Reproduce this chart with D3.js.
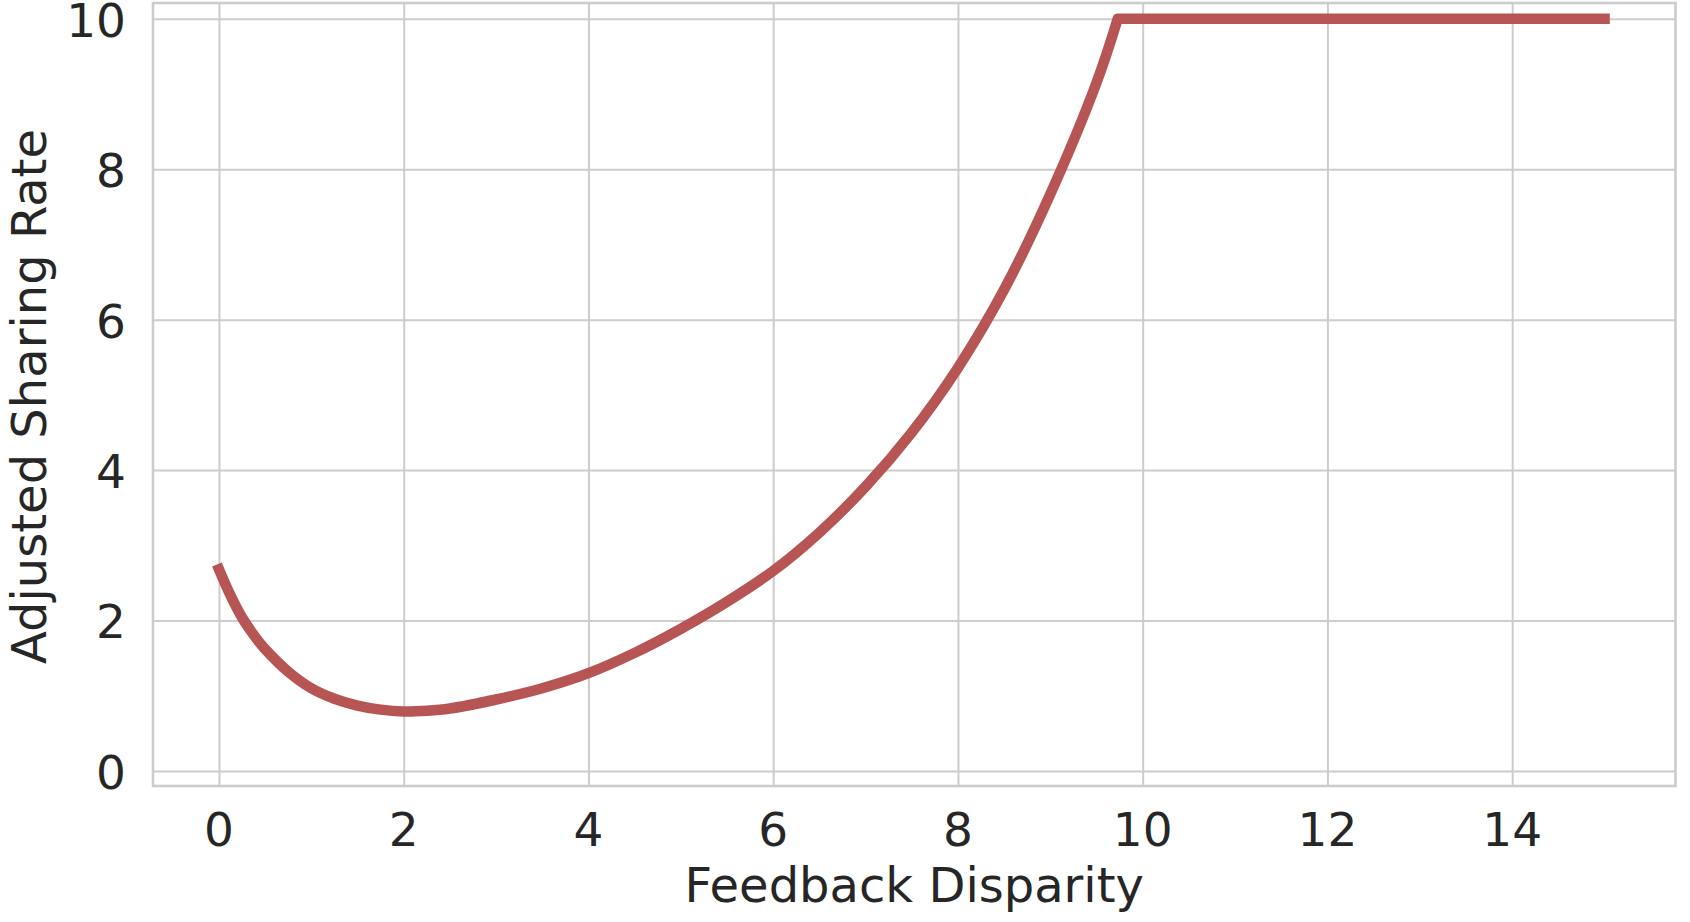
<!DOCTYPE html>
<html>
<head>
<meta charset="utf-8">
<script src="https://cdn.jsdelivr.net/npm/d3@7"></script>
<style>
  html, body { margin: 0; padding: 0; background: #ffffff; }
  svg { display: block; }
</style>
</head>
<body>
<svg id="chart" width="1690" height="922"></svg>
<script>
// ---- data ----
const disparity = [0, 0.1, 0.25, 0.4, 0.5, 0.75, 1, 1.25, 1.5, 1.75, 2, 2.25, 2.5, 3, 3.5, 4, 4.5, 5, 5.5, 6, 6.5, 7, 7.5, 8, 8.5, 9, 9.5, 9.73];
const sharingRate = [2.68, 2.40, 2.04, 1.77, 1.62, 1.32, 1.10, 0.96, 0.87, 0.815, 0.79, 0.80, 0.83, 0.95, 1.10, 1.30, 1.57, 1.89, 2.25, 2.66, 3.17, 3.78, 4.5, 5.36, 6.4, 7.67, 9.15, 10];
const plateauX = [9.73, 15];
const plateauY = [10, 10];
const xTicks = [0, 2, 4, 6, 8, 10, 12, 14];
const yTicks = [0, 2, 4, 6, 8, 10];
const xLabel = "Feedback Disparity";
const yLabel = "Adjusted Sharing Rate";

// ---- layout ----
const svg = d3.select("#chart");
const plotL = 153, plotR = 1675.5, plotT = 3, plotB = 786;
const x = d3.scaleLinear().domain([-0.714, 15.768]).range([plotL, plotR]);
const y = d3.scaleLinear().domain([-0.2, 10.21]).range([plotB, plotT]);
const gridColor = "#cccccc";
const textColor = "#262626";
const font = "DejaVu Sans, sans-serif";

// grid
const xAxis = d3.axisBottom(x).tickValues(xTicks).tickSize(-(plotB - plotT)).tickPadding(0).tickFormat(() => "");
const yAxis = d3.axisLeft(y).tickValues(yTicks).tickSize(-(plotR - plotL)).tickPadding(0).tickFormat(() => "");
const gx = svg.append("g").attr("transform", `translate(0,${plotB})`).call(xAxis);
const gy = svg.append("g").attr("transform", `translate(${plotL},0)`).call(yAxis);
[gx, gy].forEach(g => {
  g.select(".domain").remove();
  g.selectAll(".tick line").attr("stroke", gridColor).attr("stroke-width", 2);
});

// tick labels
svg.append("g").selectAll("text").data(xTicks).join("text")
  .attr("x", d => x(d)).attr("y", 846)
  .attr("text-anchor", "middle")
  .attr("font-family", font).attr("font-size", 47).attr("fill", textColor)
  .text(d => d);
svg.append("g").selectAll("text").data(yTicks).join("text")
  .attr("x", 126).attr("y", d => y(d))
  .attr("dy", "0.38em")
  .attr("text-anchor", "end")
  .attr("font-family", font).attr("font-size", 47).attr("fill", textColor)
  .text(d => d);

// frame
svg.append("rect")
  .attr("x", plotL).attr("y", plotT)
  .attr("width", plotR - plotL).attr("height", plotB - plotT)
  .attr("fill", "none").attr("stroke", gridColor).attr("stroke-width", 2.6);

// curve
const pts = disparity.map((d, i) => [d, sharingRate[i]]);
const curveGen = d3.line().x(d => x(d[0])).y(d => y(d[1])).curve(d3.curveCatmullRom.alpha(0.5));
const flatPts = plateauX.map((d, i) => [d, plateauY[i]]);
const pathD = curveGen(pts) + flatPts.slice(1).map(p => `L${x(p[0])},${y(p[1])}`).join("");
svg.append("path")
  .attr("d", pathD)
  .attr("fill", "none")
  .attr("stroke", "#b75555")
  .attr("stroke-width", 10.5)
  .attr("stroke-linecap", "square")
  .attr("stroke-linejoin", "round");

// axis labels
svg.append("text")
  .attr("x", (plotL + plotR) / 2).attr("y", 902)
  .attr("text-anchor", "middle")
  .attr("font-family", font).attr("font-size", 48).attr("fill", textColor)
  .text(xLabel);
svg.append("text")
  .attr("transform", `translate(46,${(plotT + plotB) / 2 + 2}) rotate(-90)`)
  .attr("text-anchor", "middle")
  .attr("font-family", font).attr("font-size", 48).attr("fill", textColor)
  .text(yLabel);
</script>
</body>
</html>
